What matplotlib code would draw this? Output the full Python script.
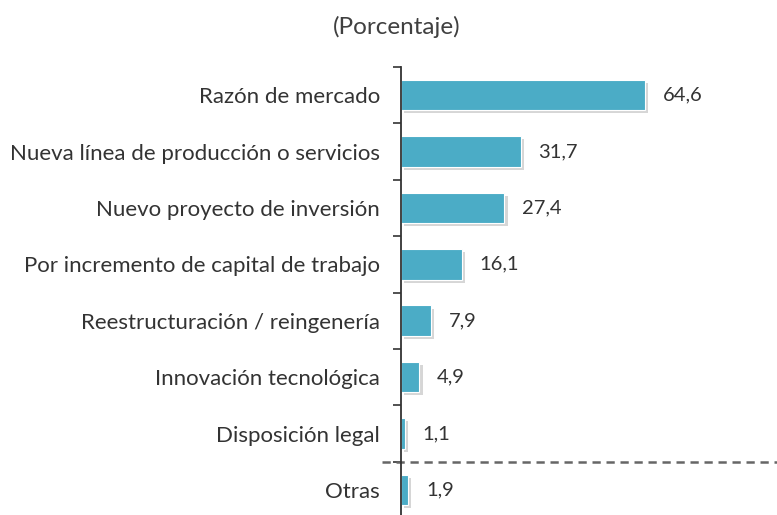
import matplotlib.pyplot as plt
import matplotlib.patheffects as pe

# Datos (porcentaje)
categorias = ['Razón de mercado',
              'Nueva línea de producción o servicios',
              'Nuevo proyecto de inversión',
              'Por incremento de capital de trabajo',
              'Reestructuración / reingenería',
              'Innovación tecnológica',
              'Disposición legal',
              'Otras']
valores = [64.6, 31.7, 27.4, 16.1, 7.9, 4.9, 1.1, 1.9]

plt.rcParams['font.family'] = ['Lato', 'DejaVu Sans']
texto = '#333333'

fig = plt.figure(figsize=(7.77, 5.15), dpi=100)
ax = fig.add_axes([0.516, -0.006, 0.484, 0.876])

y = list(range(len(categorias)))
bars = ax.barh(y, valores, height=0.54, color='#4bacc6', edgecolor='white', linewidth=0.8)
for b in bars:
    b.set_path_effects([pe.withSimplePatchShadow(offset=(2.2, -2.2), shadow_rgbFace='#999999', alpha=0.4)])

for yi, v in zip(y, valores):
    ax.text(v + 4.7, yi, f'{v:.1f}'.replace('.', ','), va='center', ha='left',
            fontsize=14.5, color=texto)

# línea punteada que separa "Otras"
ax.axhline(6.5, color='#666666', linestyle=(0, (3.3, 2.3)), linewidth=1.8, xmin=-0.05, clip_on=False)

ax.set_xlim(0, 99.5)
ax.set_ylim(7.5, -0.5)
ax.set_yticks(y)
ax.set_yticklabels(categorias, fontsize=16, color=texto)
ax.set_yticks([i - 0.5 for i in range(len(categorias) + 1)], minor=True)
ax.tick_params(axis='y', which='major', length=0, pad=15)
ax.tick_params(axis='y', which='minor', length=6, width=1.2, direction='out', color='#333333')
ax.set_xticks([])
for s in ['top', 'right', 'bottom']:
    ax.spines[s].set_visible(False)
ax.spines['left'].set_color('#333333')
ax.spines['left'].set_linewidth(1.3)

fig.text(0.511, 0.948, '(Porcentaje)', ha='center', va='center', fontsize=17.5, color='#404040')

fig.savefig('out.png', dpi=100)
